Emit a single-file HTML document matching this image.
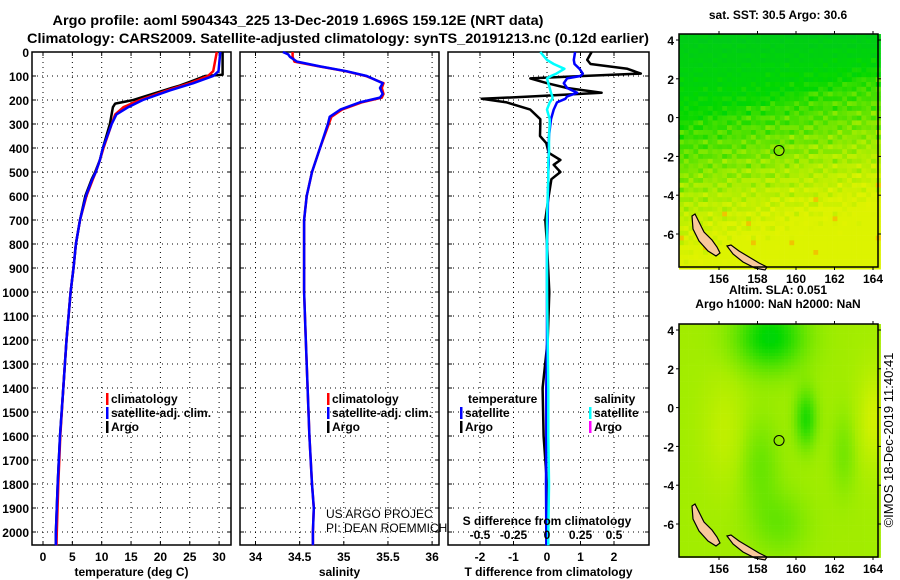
<!DOCTYPE html>
<html><head><meta charset="utf-8">
<style>
body{margin:0;background:#fff;}
svg{display:block;font-family:"Liberation Sans",sans-serif;font-weight:bold;}
</style></head>
<body>
<svg id="c" width="900" height="580" viewBox="0 0 900 580" xmlns="http://www.w3.org/2000/svg">
<text x="298" y="25" font-size="14" text-anchor="middle" textLength="491" lengthAdjust="spacingAndGlyphs">Argo profile: aoml 5904343_225 13-Dec-2019 1.696S 159.12E (NRT data)</text>
<text x="338" y="43" font-size="14" text-anchor="middle" textLength="622" lengthAdjust="spacingAndGlyphs">Climatology: CARS2009. Satellite-adjusted climatology: synTS_20191213.nc (0.12d earlier)</text>
<g id="panels"></g>
<g id="maps"></g>
<text transform="translate(893,440) rotate(-90)" font-size="13" font-weight="normal" text-anchor="middle">©IMOS 18-Dec-2019 11:40:41</text>
</svg>
<script>
// ---- data ----
const depthTicks=[0,100,200,300,400,500,600,700,800,900,1000,1100,1200,1300,1400,1500,1600,1700,1800,1900,2000];
const tempTicks=[0,5,10,15,20,25,30];
const salTicks=[34,34.5,35,35.5,36];
const salTickLabels=["34","34.5","35","35.5","36"];
const tdiffTicks=[-2,-1,0,1,2];
const sdiffTicks=[-0.5,-0.25,0,0.25,0.5];
const sdiffTickLabels=["-0.5","-0.25","0","0.25","0.5"];

const argoTD=[0,20,50,95,100,120,140,150,200,215,230,300,400,450,500,530,600,700,800,900,1000,1200,1400,1600,1800,2000,2055];
const argoT=[30.6,30.6,30.6,30.6,27.6,25.5,23.3,21.9,15.4,12.3,11.9,11.4,10.2,9.7,8.9,8.3,7.2,6.3,5.6,5.2,4.7,4.0,3.45,2.9,2.5,2.2,2.2];
const climTD=[0,80,100,130,160,200,230,260,300,400,450,500,530,600,700,800,900,1000,1200,1400,1600,1800,2000,2055];
const climT=[29.6,29.0,28.1,25.0,21.1,16.5,13.7,12.3,11.7,10.3,9.7,9.0,8.5,7.4,6.3,5.6,5.2,4.7,4.0,3.45,2.95,2.6,2.35,2.3];
const satT=[30.2,29.9,29.0,25.6,21.6,17.0,14.5,12.5,11.7,10.2,9.7,9.0,8.4,7.3,6.3,5.6,5.2,4.7,4.0,3.45,2.9,2.5,2.2,2.2];

const salD=[0,10,20,40,60,80,100,130,150,175,190,210,240,270,300,400,500,600,700,1000,1200,1400,1600,1800,1900,2000,2055];
const climS=[34.42,34.42,34.42,34.44,34.72,35.02,35.25,35.45,35.43,35.45,35.43,35.2,34.98,34.86,34.83,34.73,34.64,34.58,34.55,34.55,34.57,34.59,34.61,34.64,34.66,34.65,34.65];
const satS=[34.31,34.37,34.39,34.47,34.73,35.03,35.26,35.44,35.41,35.44,35.41,35.18,34.96,34.84,34.82,34.73,34.64,34.58,34.55,34.55,34.57,34.59,34.61,34.64,34.66,34.65,34.65];

const dD=[0,33,50,70,90,100,110,130,150,170,185,195,210,240,280,300,350,380,420,450,470,500,530,600,700,800,1000,1200,1400,1600,1800,2000,2055];
const argoTdiff=[1.33,1.2,1.3,2.4,2.8,1.07,-0.5,0,0.6,1.63,-0.42,-1.95,-1.2,-0.5,-0.2,-0.2,-0.21,-0.02,0.05,0.4,0.2,0.4,0.13,0.05,-0.05,0,0.07,0.02,-0.13,-0.1,0,0,0.02];
const satTdiff=[0.84,0.8,0.82,0.97,1.07,1.0,0.6,0.5,0.6,0.9,0.6,0.55,0.3,0.2,0.12,0.1,0.06,0.05,0.05,0.05,0.05,0.04,0.04,0.03,0.02,0.0,0.0,0.0,-0.02,-0.02,-0.03,-0.02,-0.02];
const satSdiff=[-0.05,0,0.05,0.13,0.07,0.03,0,0.01,0.02,0.03,0.04,0.04,0.02,0,0.02,0.02,0.015,0.015,0.015,0.01,0.01,0.01,0.01,0.005,0,0,0,0.005,0.01,0.01,0.015,0.01,0.01];

const NS='http://www.w3.org/2000/svg';
function mk(tag,attrs,parent,text){const e=document.createElementNS(NS,tag);for(const k in attrs)e.setAttribute(k,attrs[k]);if(text!==undefined)e.textContent=text;parent.appendChild(e);return e;}
const yTop=52,yBot=545;
const yD=d=>yTop+d*0.2400;
const P=document.getElementById('panels');

function panel(name,x0,x1,xf,ticks,labels,xlabel){
  const g=mk('g',{},P);
  
  
  for(const d of depthTicks){
    const l=mk('line',{x1:x0,x2:x1,y1:yD(d),y2:yD(d),stroke:'#000','stroke-width':1,'stroke-dasharray':'1,4'},g);
    
    
    mk('line',{x1:x0,x2:x0+4,y1:yD(d),y2:yD(d),stroke:'#000'},g);
    mk('line',{x1:x1-4,x2:x1,y1:yD(d),y2:yD(d),stroke:'#000'},g);
  }
  ticks.forEach((t,i)=>{
    const x=xf(t);
    const l=mk('line',{x1:x,x2:x,y1:yTop,y2:yBot,stroke:'#000','stroke-width':1,'stroke-dasharray':'1,4'},g);
    
    
    mk('line',{x1:x,x2:x,y1:yBot-4,y2:yBot,stroke:'#000'},g);
    mk('line',{x1:x,x2:x,y1:yTop,y2:yTop+4,stroke:'#000'},g);
    const tl=mk('text',{x:x,y:561,'font-size':12,'text-anchor':'middle'},g,labels[i]);
    
    
  });
  const f=mk('rect',{x:x0,y:yTop,width:x1-x0,height:yBot-yTop,fill:'none',stroke:'#000','stroke-width':1.5},g);
  
  
  const xl=mk('text',{x:(x0+x1)/2,y:576,'font-size':12,'text-anchor':'middle'},g,xlabel);
  
  
  return g;
}
function line(g,name,ds,vs,xf,color,w){
  const pts=ds.map((d,i)=>xf(vs[i]).toFixed(1)+','+yD(d).toFixed(1)).join(' ');
  const p=mk('polyline',{points:pts,fill:'none',stroke:color,'stroke-width':w||2.5,'stroke-linejoin':'round'},g);
  
  
}
function txt(g,name,x,y,s,opts){const t=mk('text',Object.assign({x:x,y:y,'font-size':12},opts||{}),g,s);return t;}
function leg(g,name,x,y,color,label){
  const r=mk('rect',{x:x,y:y-10,width:2.5,height:12,fill:color},g);
  
  
  txt(g,name,x+5,y,label);
}

const yl=mk('g',{},P);


for(const d of depthTicks){txt(yl,'depth-tick-label',29,yD(d)+5,String(d),{'text-anchor':'end'});}

const xT=t=>43+t*5.87;
const g1=panel('temperature-panel',32,231,xT,tempTicks,tempTicks.map(String),'temperature (deg C)');
line(g1,'argo-temperature',argoTD,argoT,xT,'#000');
line(g1,'climatology-temperature',climTD,climT,xT,'#f00');
line(g1,'satellite-temperature',climTD,satT,xT,'#00f');
leg(g1,'legend-climatology',106,403,'#f00','climatology');
leg(g1,'legend-satellite',106,417,'#00f','satellite-adj. clim.');
leg(g1,'legend-argo',106,431,'#000','Argo');

const xS=s=>255.5+(s-34)*88.3;
const g2=panel('salinity-panel',240,439,xS,salTicks,salTickLabels,'salinity');
line(g2,'climatology-salinity',salD,climS,xS,'#f00');
line(g2,'satellite-salinity',salD,satS,xS,'#00f');
leg(g2,'legend-climatology',327,403,'#f00','climatology');
leg(g2,'legend-satellite',327,417,'#00f','satellite-adj. clim.');
leg(g2,'legend-argo',327,431,'#000','Argo');
txt(g2,'us-argo-project-credit',326,518,'US ARGO PROJEC',{'font-weight':'normal'});
txt(g2,'pi-credit',326,532,'PI: DEAN ROEMMICH',{'font-weight':'normal'});

const xTd=t=>547+t*33.5;
const xSd=s=>547+s*134;
const g3=panel('difference-panel',448,649,xTd,tdiffTicks,tdiffTicks.map(String),'T difference from climatology');
line(g3,'argo-temperature-difference',dD,argoTdiff,xTd,'#000');
line(g3,'satellite-temperature-difference',dD,satTdiff,xTd,'#00f');
line(g3,'satellite-salinity-difference',dD,satSdiff,xSd,'#0ff');
txt(g3,'legend-temperature-header',468,403,'temperature');
txt(g3,'legend-salinity-header',594,403,'salinity');
leg(g3,'legend-t-satellite',460,417,'#00f','satellite');
leg(g3,'legend-t-argo',460,431,'#000','Argo');
leg(g3,'legend-s-satellite',589,417,'#0ff','satellite');
leg(g3,'legend-s-argo',589,431,'#f0f','Argo');
txt(g3,'s-axis-title',547,525,'S difference from climatology',{'text-anchor':'middle'});
sdiffTicks.forEach((s,i)=>txt(g3,'s-tick-label',xSd(s),539,sdiffTickLabels[i],{'text-anchor':'middle'}));

// ---- maps ----
const M=document.getElementById('maps');
const lonTicks=[156,158,160,162,164];
const latTicks=[4,2,0,-2,-4,-6];
const floatLon=159.12, floatLat=-1.696;
function colour(h){
  h=Math.max(0,Math.min(1.05,h));
  if(h<0.25) return 'rgb(0,'+Math.round(200+h*60)+','+Math.round(30-h*100)+')';
  if(h<0.7) return 'rgb('+Math.round((h-0.25)/0.45*170)+','+Math.round(215+(h-0.25)*50)+',0)';
  if(h<0.97) return 'rgb('+Math.round(170+(h-0.7)/0.27*60)+','+Math.round(237+(h-0.7)*25)+',0)';
  return 'rgb(240,'+Math.round(215-(h-0.97)*600)+',0)';
}
const G=(u,v,cu,cv,su,sv)=>Math.exp(-((u-cu)*(u-cu)/su+(v-cv)*(v-cv)/sv));
function mapPanel(name,top,titles,kind){
  const g=mk('g',{},M);
  
  
  const x0=679,x1=878,y1=top+233;
  const lx=l=>719+(l-156)*19.25;
  const ly=l=>top+6+(4-l)*19.4;
  const cell=kind==='sst'?4.8:3.2;
  for(let y=top;y<y1;y+=cell){
    for(let x=x0;x<x1;x+=cell){
      const u=(x-x0)/(x1-x0), v=(y-top)/(y1-top);
      let h;
      if(kind==='sst'){
        const n=Math.sin(x*0.91+y*1.37)*Math.cos(x*0.43-y*0.77)+0.5*Math.sin(x*2.3-y*1.9);
        const b=0.38-0.22*u;
        h=v<b?0.08+0.22*(v/b)+0.06*n:0.35+(v-b)*1.1+0.1*n;
        if(h>0.95)h=(n>1.25)?1.0:0.93;
      } else {
        h=0.68-0.45*G(u,v,0.45,0.05,0.03,0.02)-0.35*G(u,v,0.63,0.4,0.003,0.015)-0.15*G(u,v,0.4,0.6,0.01,0.04)
          -0.15*G(u,v,0.5,0.85,0.02,0.02)-0.12*G(u,v,0.82,0.55,0.004,0.03)+0.2*G(u,v,0.97,0.4,0.006,0.04)+0.12*G(u,v,0.22,0.45,0.01,0.05);
      }
      mk('rect',{x:x,y:y,width:cell+0.3,height:cell+0.3,fill:colour(h)},g);
    }
  }
  const is1=mk('path',{d:'M692,'+(top+182)+' l3,-2 l4,8 l5,10 l8,8 l5,7 l3,6 l-4,3 l-8,-5 l-9,-10 l-6,-12 z',fill:'#f8c89a',stroke:'#000','stroke-width':1.2},g);
  
  
  const is2=mk('path',{d:'M727,'+(top+212)+' l4,-1 l8,6 l10,6 l10,6 l8,4 l-2,3 l-10,-2 l-12,-6 l-10,-8 z',fill:'#f8c89a',stroke:'#000','stroke-width':1.2},g);
  
  
  mk('rect',{x:x0,y:top,width:x1-x0,height:y1-top,fill:'none',stroke:'#000','stroke-width':1.5},g);
  const c=mk('circle',{cx:lx(floatLon),cy:ly(floatLat),r:5,fill:'none',stroke:'#000','stroke-width':1},g);
  
  
  for(const l of lonTicks){
    mk('line',{x1:lx(l),x2:lx(l),y1:top-3,y2:top,stroke:'#000'},g);
    mk('line',{x1:lx(l),x2:lx(l),y1:y1,y2:y1+3,stroke:'#000'},g);
    txt(g,'longitude-tick-label',lx(l),y1+16,String(l),{'text-anchor':'middle'});
  }
  for(const l of latTicks){
    mk('line',{x1:x0-3,x2:x0,y1:ly(l),y2:ly(l),stroke:'#000'},g);
    mk('line',{x1:x1,x2:x1+3,y1:ly(l),y2:ly(l),stroke:'#000'},g);
    txt(g,'latitude-tick-label',x0-5,ly(l)+5,String(l),{'text-anchor':'end'});
  }
  titles.forEach((t,i)=>txt(g,'map-title',778,top-(titles.length-i)*14+(titles.length===1?-1:-2),t,{'text-anchor':'middle'}));
}
mapPanel('sst-map',34,['sat. SST: 30.5 Argo: 30.6'],'sst');
mapPanel('sla-map',324,['Altim. SLA: 0.051','Argo h1000: NaN h2000: NaN'],'sla');
</script>
</body></html>
